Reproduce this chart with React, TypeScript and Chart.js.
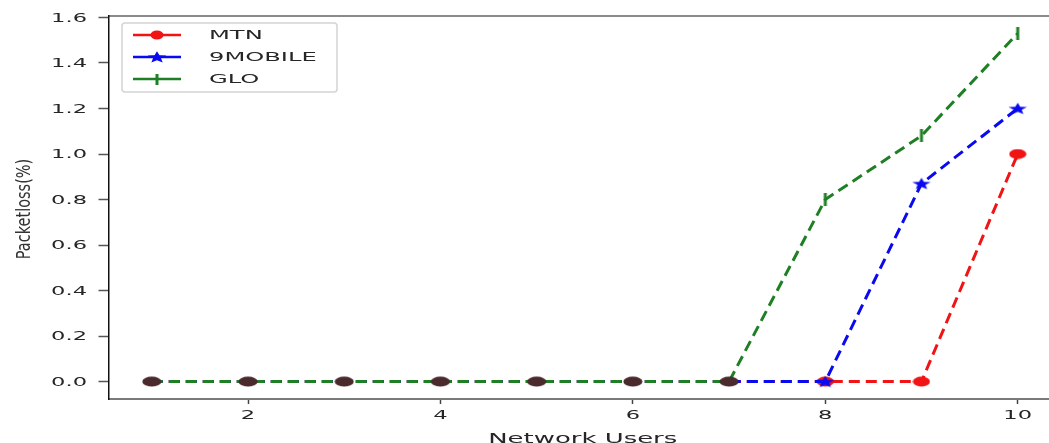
import React, { useEffect, useRef } from 'react';
import { Chart, registerables } from 'chart.js';

Chart.register(...registerables);

const USERS = [1, 2, 3, 4, 5, 6, 7, 8, 9, 10];
const MTN = [0, 0, 0, 0, 0, 0, 0, 0, 0, 1.0];
const MOBILE9 = [0, 0, 0, 0, 0, 0, 0, 0, 0.87, 1.2];
const GLO = [0, 0, 0, 0, 0, 0, 0, 0.8, 1.08, 1.53];
const SERIES_LABELS = ['MTN', '9MOBILE', 'GLO'];
const SERIES_COLORS = ['#f01414', '#0a0af0', '#1f7f24'];
const X_TICKS = [2, 4, 6, 8, 10];
const Y_TICKS = [0, 0.2, 0.4, 0.6, 0.8, 1.0, 1.2, 1.4, 1.6];
const X_TITLE = 'Network Users';
const Y_TITLE = 'Packetloss(%)';

const STRETCH = 1.88;
const TEXT_COLOR = '#262626';

function allEqual(i: number | undefined) {
  if (i === undefined) return false;
  return MTN[i] === MOBILE9[i] && MOBILE9[i] === GLO[i];
}

function makeCanvas(w: number, h: number, draw: (c: CanvasRenderingContext2D) => void) {
  const cv = document.createElement('canvas');
  cv.width = w;
  cv.height = h;
  const c = cv.getContext('2d')!;
  draw(c);
  return cv;
}

function ellipse(w: number, h: number, color: string) {
  return makeCanvas(w, h, (c) => {
    c.fillStyle = color;
    c.beginPath();
    c.ellipse(w / 2, h / 2, w / 2 - 0.5, h / 2 - 0.5, 0, 0, Math.PI * 2);
    c.fill();
  });
}

function star(w: number, h: number, color: string) {
  return makeCanvas(w, h, (c) => {
    c.translate(w / 2, h / 2 + 0.5);
    c.scale(1.55, 1);
    c.fillStyle = color;
    c.beginPath();
    for (let k = 0; k < 10; k++) {
      const r = k % 2 ? 2.7 : 6.2;
      const a = -Math.PI / 2 + (k * Math.PI) / 5;
      const px = r * Math.cos(a);
      const py = r * Math.sin(a);
      if (k === 0) c.moveTo(px, py);
      else c.lineTo(px, py);
    }
    c.closePath();
    c.fill();
  });
}

function vbar(w: number, h: number, color: string) {
  return makeCanvas(w, h, (c) => {
    c.fillStyle = color;
    c.fillRect((w - 3) / 2, 0, 3, h);
  });
}

function stretchText(
  ctx: CanvasRenderingContext2D,
  text: string,
  x: number,
  y: number,
  align: CanvasTextAlign,
  font: string,
  sx: number,
  color: string
) {
  ctx.save();
  ctx.translate(x, y);
  ctx.scale(sx, 1);
  ctx.font = font;
  ctx.textAlign = align;
  ctx.textBaseline = 'middle';
  ctx.fillStyle = color;
  ctx.fillText(text, 0, 0);
  ctx.restore();
}

export default function App() {
  const ref = useRef<HTMLCanvasElement | null>(null);

  useEffect(() => {
    if (!ref.current) return;
    const redEl = ellipse(18, 11, SERIES_COLORS[0]);
    const darkEl = ellipse(20, 11, '#4a2a2c');
    const blueStar = star(20, 14, SERIES_COLORS[1]);
    const greenBar = vbar(6, 13, SERIES_COLORS[2]);
    const legendMarkers = [ellipse(14, 10, SERIES_COLORS[0]), star(18, 12, SERIES_COLORS[1]), vbar(6, 11, SERIES_COLORS[2])];

    const pts = (arr: number[]) => USERS.map((u, i) => ({ x: u, y: arr[i] }));

    const textPlugin = {
      id: 'stretchedText',
      afterDraw(chart: any) {
        const ctx: CanvasRenderingContext2D = chart.ctx;
        const xs = chart.scales.x;
        const ys = chart.scales.y;
        // y tick labels
        Y_TICKS.forEach((v) => {
          stretchText(ctx, v.toFixed(1), 87, ys.getPixelForValue(v) + 1, 'right', '12px "DejaVu Sans"', STRETCH, TEXT_COLOR);
        });
        // x tick labels
        X_TICKS.forEach((v) => {
          stretchText(ctx, String(v), xs.getPixelForValue(v), 416, 'center', '12px "DejaVu Sans"', STRETCH, TEXT_COLOR);
        });
        // x title
        stretchText(ctx, X_TITLE, (xs.left + xs.right) / 2 - 2, 439, 'center', '13.5px "DejaVu Sans"', 1.92, TEXT_COLOR);
        // y title
        ctx.save();
        ctx.translate(25, 209);
        ctx.scale(1.35, 1);
        ctx.rotate(-Math.PI / 2);
        ctx.font = '14.5px "DejaVu Sans"';
        ctx.textAlign = 'center';
        ctx.textBaseline = 'middle';
        ctx.fillStyle = '#333';
        ctx.fillText(Y_TITLE, 0, 0);
        ctx.restore();
        // legend
        const bx = 122, by = 23, bw = 215, bh = 69;
        ctx.save();
        ctx.fillStyle = 'rgba(255,255,255,0.9)';
        ctx.strokeStyle = '#d4d4d4';
        ctx.lineWidth = 1.5;
        ctx.beginPath();
        ctx.roundRect(bx, by, bw, bh, 3);
        ctx.fill();
        ctx.stroke();
        chart.data.datasets.forEach((ds: any, i: number) => {
          const ly = 35 + 22 * i;
          ctx.strokeStyle = ds.borderColor;
          ctx.lineWidth = 2.5;
          ctx.setLineDash([]);
          ctx.beginPath();
          ctx.moveTo(133, ly);
          ctx.lineTo(181, ly);
          ctx.stroke();
          const m = legendMarkers[i];
          ctx.drawImage(m, 157 - m.width / 2, ly - m.height / 2);
          stretchText(ctx, ds.label, 209, ly + 1, 'left', '13px "DejaVu Sans"', 1.86, TEXT_COLOR);
        });
        ctx.restore();
      },
    };

    const chart = new Chart(ref.current, {
      type: 'line',
      data: {
        datasets: [
          {
            label: SERIES_LABELS[0],
            data: pts(MTN),
            borderColor: SERIES_COLORS[0],
            backgroundColor: SERIES_COLORS[0],
            borderWidth: 3,
            borderDash: [11, 6],
            pointStyle: redEl as any,
            pointRadius: ((c: any) => (allEqual(c.dataIndex) ? 0 : 6)) as any,
            order: 3,
            xAxisID: 'x',
            yAxisID: 'y',
          },
          {
            label: SERIES_LABELS[1],
            data: pts(MOBILE9),
            borderColor: SERIES_COLORS[1],
            backgroundColor: SERIES_COLORS[1],
            borderWidth: 3,
            borderDash: [11, 6],
            pointStyle: blueStar as any,
            pointRadius: ((c: any) => (allEqual(c.dataIndex) ? 0 : 6)) as any,
            order: 2,
            xAxisID: 'x',
            yAxisID: 'y',
          },
          {
            label: SERIES_LABELS[2],
            data: pts(GLO),
            borderColor: SERIES_COLORS[2],
            backgroundColor: SERIES_COLORS[2],
            borderWidth: 3,
            borderDash: [11, 6],
            pointStyle: ((c: any) => (allEqual(c.dataIndex) ? darkEl : greenBar)) as any,
            pointRadius: 6,
            order: 1,
            xAxisID: 'x',
            yAxisID: 'y',
          },
        ],
      },
      options: {
        responsive: false,
        animation: false,
        devicePixelRatio: 1,
        layout: { padding: { left: 0, right: 14, top: 0, bottom: 0 } },
        plugins: {
          legend: { display: false },
          tooltip: { enabled: false },
          title: { display: false },
        },
        scales: {
          x: {
            type: 'linear',
            position: 'bottom',
            min: 0.55,
            max: 10.45,
            afterBuildTicks: (s: any) => {
              s.ticks = X_TICKS.map((v) => ({ value: v }));
            },
            afterFit: (s: any) => {
              s.height = 44;
            },
            ticks: { display: false },
            grid: { display: true, drawOnChartArea: false, drawTicks: true, tickLength: 5, tickColor: '#444', tickWidth: 1.5 },
            border: { display: true, color: '#7a7a7a', width: 2 },
          },
          x2: {
            type: 'linear',
            position: 'top',
            min: 0.55,
            max: 10.45,
            afterFit: (s: any) => {
              s.height = 16;
            },
            ticks: { display: false },
            grid: { display: false },
            border: { display: true, color: '#8a8a8a', width: 2 },
          },
          y: {
            type: 'linear',
            min: -0.0765,
            max: 1.6065,
            afterBuildTicks: (s: any) => {
              s.ticks = Y_TICKS.map((v) => ({ value: v }));
            },
            afterFit: (s: any) => {
              s.width = 108.5;
            },
            ticks: { display: false },
            grid: { display: true, drawOnChartArea: false, drawTicks: true, tickLength: 10, tickColor: '#555', tickWidth: 1.5 },
            border: { display: true, color: '#111', width: 1.5 },
          },
        },
      } as any,
      plugins: [textPlugin],
    });
    return () => chart.destroy();
  }, []);

  return (
    <div style={{ position: 'absolute', left: 0, top: 0, width: 1049, height: 443, overflow: 'hidden', background: '#fff' }}>
      <canvas ref={ref} width={1075} height={443} style={{ width: 1075, height: 443, display: 'block' }} />
    </div>
  );
}
